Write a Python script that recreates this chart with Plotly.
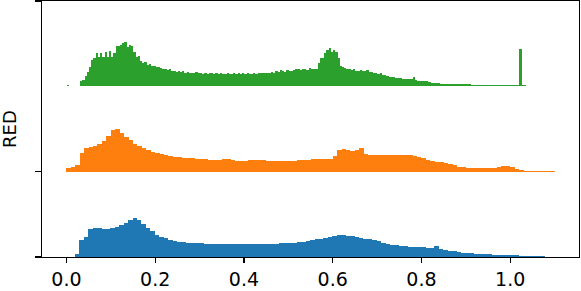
import plotly.graph_objects as go

# Histogram bin settings (value axis)
COARSE_BIN = 0.01   # blue / orange
FINE_BIN = 0.005    # green
DENSITY_NORM = 257.0  # converts read densities to ridge units (1 unit = spacing between ridges)

# Ridge baselines (one per series)
ridge_offsets = {"blue": 0, "orange": 1, "green": 2}

blue_density = [
    0, 0, 10, 50, 60, 85, 88, 87, 83, 83,
    87, 91, 96, 103, 112, 116, 111, 99, 87, 78,
    66, 60, 56, 52, 48, 46, 44, 43, 42, 41,
    41, 40, 39, 38, 38, 38, 38, 38, 38, 38,
    38, 38, 38, 38, 38, 39, 40, 40, 41, 41,
    42, 43, 44, 46, 48, 50, 53, 55, 57, 59,
    64, 66, 65, 64, 63, 60, 57, 54, 54, 51,
    48, 43, 40, 37, 35, 33, 32, 31, 30, 29,
    29, 28, 27, 33, 25, 22, 19, 17, 15, 13,
    12, 11, 10, 9, 9, 8, 7, 7, 6, 6,
    5, 5, 4, 4, 3, 3, 2, 2, 1, 1,
]

orange_density = [
    11, 15, 20, 55, 72, 74, 78, 84, 92, 106,
    126, 130, 116, 104, 94, 84, 77, 70, 64, 59,
    55, 52, 49, 47, 45, 43, 42, 41, 40, 39,
    38, 37, 36, 36, 36, 37, 39, 36, 33, 33,
    33, 35, 36, 36, 34, 31, 31, 31, 31, 31,
    32, 33, 34, 35, 36, 37, 37, 38, 38, 39,
    46, 66, 67, 64, 62, 64, 70, 54, 50, 49,
    50, 50, 50, 50, 50, 50, 50, 49, 46, 43,
    40, 36, 32, 28, 28, 25, 23, 19, 14, 13,
    12, 11, 10, 10, 10, 11, 12, 14, 17, 18,
    13, 7, 4, 3, 2, 2, 2, 1, 1, 1,
]

green_density = [
    5, 1, 1, 1, 1, 2, 16, 20, 31, 42,
    59, 79, 84, 101, 87, 101, 87, 104, 89, 106,
    89, 99, 121, 121, 124, 131, 133, 119, 124, 121,
    104, 89, 91, 77, 71, 74, 64, 67, 61, 61,
    57, 59, 54, 51, 52, 49, 51, 47, 47, 44,
    47, 44, 47, 41, 44, 39, 39, 41, 42, 39,
    41, 38, 39, 37, 39, 39, 36, 39, 37, 39,
    37, 36, 39, 36, 36, 39, 37, 39, 37, 39,
    37, 39, 37, 36, 39, 37, 41, 39, 41, 39,
    41, 41, 44, 41, 46, 44, 49, 46, 44, 49,
    47, 47, 49, 52, 51, 49, 53, 51, 49, 55,
    53, 52, 52, 69, 84, 84, 101, 109, 116, 104,
    109, 104, 84, 61, 59, 54, 51, 53, 49, 51,
    47, 47, 49, 46, 47, 49, 44, 44, 39, 41,
    37, 39, 34, 33, 31, 29, 27, 27, 25, 24,
    24, 22, 23, 21, 22, 21, 27, 19, 17, 16,
    16, 16, 17, 14, 11, 10, 10, 9, 8, 8,
    8, 8, 8, 7, 7, 7, 7, 6, 6, 6,
    6, 6, 5, 5, 5, 5, 5, 5, 4, 4,
    4, 4, 4, 4, 3, 3, 3, 3, 3, 3,
    3, 3, 3, 3, 111, 5, 3, 2, 2, 2,
    2, 1, 1, 1, 1, 1, 1, 1, 1, 1,
]

x_tick_vals = [0.0, 0.2, 0.4, 0.6, 0.8, 1.0]
x_tick_text = ["0.0", "0.2", "0.4", "0.6", "0.8", "1.0"]
y_axis_label = "RED"

colors = {"blue": "#1f77b4", "orange": "#ff7f0e", "green": "#2ca02c"}
FONT = "DejaVu Sans"


def ridge(values, bin_w, key):
    xs = [(i + 0.5) * bin_w for i in range(len(values))]
    ys = [v / DENSITY_NORM for v in values]
    return go.Bar(
        x=xs, y=ys, base=ridge_offsets[key], width=bin_w,
        marker=dict(color=colors[key], line=dict(width=0)),
        showlegend=False, hoverinfo="skip",
    )


fig = go.Figure()
fig.add_trace(ridge(blue_density, COARSE_BIN, "blue"))
fig.add_trace(ridge(orange_density, COARSE_BIN, "orange"))
fig.add_trace(ridge(green_density, FINE_BIN, "green"))

fig.update_layout(
    width=581, height=291,
    margin=dict(l=42, r=2, t=1, b=34, autoexpand=False),
    plot_bgcolor="white", paper_bgcolor="white",
    bargap=0,
    font=dict(family=FONT, size=19, color="black"),
)
fig.update_xaxes(
    range=[-0.055, 1.155],
    tickvals=x_tick_vals, ticktext=x_tick_text,
    ticks="outside", ticklen=5, tickwidth=1.3, tickcolor="black",
    automargin=False,
    showline=True, linecolor="black", linewidth=1.3, mirror=True,
    showgrid=False, zeroline=False,
    tickfont=dict(family=FONT, size=19, color="black"),
)
fig.update_yaxes(
    range=[0, 3],
    tickvals=[0, 1, 3], ticktext=["", "", ""],
    ticks="outside", ticklen=6, tickwidth=1.3, tickcolor="black",
    automargin=False,
    showline=True, linecolor="black", linewidth=1.3, mirror=True,
    showgrid=False, zeroline=False,
)
fig.add_annotation(
    text=y_axis_label, textangle=-90,
    xref="paper", yref="paper", x=-33 / 537, y=0.5,
    xanchor="center", yanchor="middle", showarrow=False,
    font=dict(family=FONT, size=18, color="black"),
)

fig.write_html(
    "out.html",
    config={"displayModeBar": False, "staticPlot": True},
    post_script="document.body.style.margin='0';document.body.style.overflow='hidden';",
)
